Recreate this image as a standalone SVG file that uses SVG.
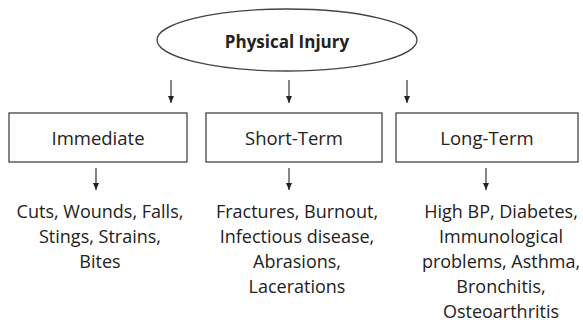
<svg xmlns="http://www.w3.org/2000/svg" width="583" height="325" viewBox="0 0 583 325">
<style>
.t{font-family:"Open Sans","Liberation Sans",sans-serif;font-size:18px;fill:#222;text-anchor:middle}
.l{font-size:18.5px}
.b{font-weight:bold;font-size:17px}
.box{fill:#fff;stroke:#444;stroke-width:1.3}
.ar{stroke:#222;stroke-width:1.1;fill:none;marker-end:url(#ah)}
</style>
<defs>
<marker id="ah" markerWidth="7" markerHeight="6" refX="7" refY="3" orient="auto" markerUnits="userSpaceOnUse" viewBox="0 0 7 6">
<path d="M0,0 L7,3 L0,6 Z" fill="#222"/>
</marker>
</defs>
<rect width="583" height="325" fill="#fff"/>
<g id="physical-injury">
<ellipse cx="287" cy="40" rx="130" ry="31" fill="#fff" stroke="#444" stroke-width="1.3"/>
<text class="t b" x="287" y="48">Physical Injury</text>
</g>
<g id="connectors">
<line class="ar" x1="171" y1="80" x2="171" y2="103"/>
<line class="ar" x1="289" y1="80" x2="289" y2="103"/>
<line class="ar" x1="407" y1="80" x2="407" y2="103"/>
<line class="ar" x1="96" y1="168" x2="96" y2="190"/>
<line class="ar" x1="289" y1="168" x2="289" y2="190"/>
<line class="ar" x1="486" y1="168" x2="486" y2="190"/>
</g>
<g id="immediate">
<rect class="box" x="9" y="113" width="178" height="49"/>
<text class="t l" x="98" y="145">Immediate</text>
</g>
<g id="short-term">
<rect class="box" x="206" y="113" width="176" height="49"/>
<text class="t l" x="294" y="145">Short-Term</text>
</g>
<g id="long-term">
<rect class="box" x="396" y="113" width="182" height="49"/>
<text class="t l" x="487" y="145">Long-Term</text>
</g>
<g id="immediate-examples">
<text class="t" x="100" y="218">Cuts, Wounds, Falls,</text>
<text class="t" x="100" y="243">Stings, Strains,</text>
<text class="t" x="100" y="268">Bites</text>
</g>
<g id="short-term-examples">
<text class="t" x="297" y="218">Fractures, Burnout,</text>
<text class="t" x="297" y="243">Infectious disease,</text>
<text class="t" x="297" y="268">Abrasions,</text>
<text class="t" x="297" y="293">Lacerations</text>
</g>
<g id="long-term-examples">
<text class="t" x="501" y="218">High BP, Diabetes,</text>
<text class="t" x="501" y="243">Immunological</text>
<text class="t" x="501" y="268">problems, Asthma,</text>
<text class="t" x="501" y="293">Bronchitis,</text>
<text class="t" x="501" y="318">Osteoarthritis</text>
</g>
</svg>
